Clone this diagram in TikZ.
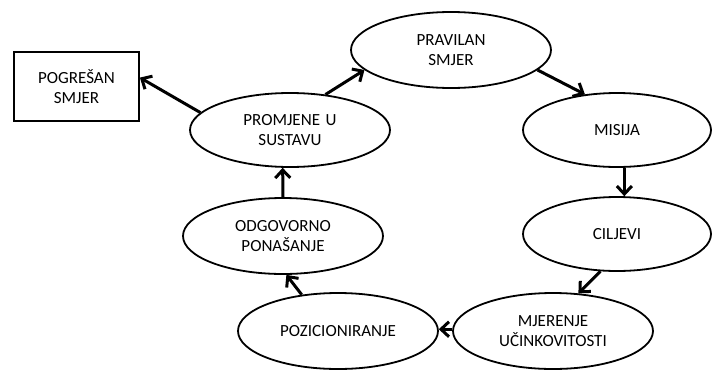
\documentclass[tikz,border=0pt]{standalone}
\usepackage{fontspec}
\setmainfont{Carlito}
\usetikzlibrary{shapes.geometric,arrows.meta}
\tikzset{
  ell/.style={draw, ellipse, line width=1.8pt, inner sep=0pt, text width=128pt, align=center,
    font=\fontsize{17}{20}\selectfont, minimum width=200pt, minimum height=76pt},
  boxnode/.style={draw, rectangle, line width=1.8pt, inner sep=0pt, text width=100pt, align=center,
    font=\fontsize{17}{20}\selectfont, minimum width=125pt, minimum height=69pt},
  conn/.style={line width=3pt, -{Straight Barb[length=8pt,width=15pt,line width=3pt]}}
}
\begin{document}
\begin{tikzpicture}[x=1pt,y=-1pt]
\useasboundingbox (0,0) rectangle (712,370);
\node[ell] (prav) at (451,50) {PRAVILAN\\SMJER};
\node[ell, minimum width=188pt, minimum height=74pt] (mis) at (617,130) {MISIJA};
\node[ell, minimum width=188pt, minimum height=74pt] (cil) at (617,234) {CILJEVI};
\node[ell] (mjer) at (553,331) {MJERENJE\\UČINKOVITOSTI};
\node[ell] (poz) at (338,331) {POZICIONIRANJE};
\node[ell] (odg) at (283,236) {ODGOVORNO\\PONAŠANJE};
\node[ell, minimum height=74pt] (prom) at (290,130) {PROMJENE U\\SUSTAVU};
\node[boxnode] (pog) at (76.5,86.5) {POGREŠAN\\SMJER};

\draw[conn] (prom.169) -- (pog.8);
\draw[conn] (prom.45) -- (prav.193);
\draw[conn] (prav.347) -- (mis.132);
\draw[conn] (mis.281) -- (cil.79);
\draw[conn] (cil.246) -- (mjer.56);
\draw[conn] (mjer.179) -- (poz.1);
\draw[conn] (poz.135) -- (odg.275);
\draw[conn] (odg.north) -- (prom.259);
\end{tikzpicture}
\end{document}
